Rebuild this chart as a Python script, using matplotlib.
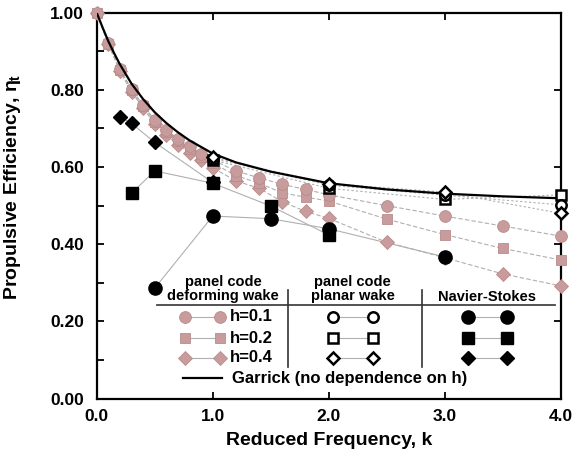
import matplotlib
matplotlib.use("Agg")
import matplotlib.pyplot as plt
import numpy as np

plt.rcParams['font.family'] = ['Liberation Sans', 'DejaVu Sans']
plt.rcParams['font.weight'] = 'bold'
plt.rcParams['mathtext.fontset'] = 'custom'
plt.rcParams['mathtext.rm'] = 'Liberation Sans'
plt.rcParams['mathtext.it'] = 'Liberation Sans'
plt.rcParams['mathtext.bf'] = 'Liberation Sans:bold'

# ---------------- data ----------------
k_deform = [0.0, 0.1, 0.2, 0.3, 0.4, 0.5, 0.6, 0.7, 0.8, 0.9, 1.0,
            1.2, 1.4, 1.6, 1.8, 2.0, 2.5, 3.0, 3.5, 4.0]
eta_deform_h01 = [1.0, 0.922, 0.855, 0.802, 0.76, 0.722, 0.695, 0.673, 0.655, 0.635, 0.618,
                  0.59, 0.572, 0.555, 0.542, 0.528, 0.50, 0.473, 0.447, 0.421]
eta_deform_h02 = [1.0, 0.92, 0.852, 0.80, 0.757, 0.718, 0.69, 0.667, 0.647, 0.627, 0.61,
                  0.578, 0.558, 0.533, 0.522, 0.512, 0.465, 0.425, 0.389, 0.359]
eta_deform_h04 = [1.0, 0.918, 0.848, 0.795, 0.752, 0.712, 0.682, 0.658, 0.637, 0.617, 0.598,
                  0.564, 0.545, 0.51, 0.485, 0.467, 0.405, 0.365, 0.323, 0.292]

k_planar = [1.0, 2.0, 3.0, 4.0]
eta_planar_h01 = [0.622, 0.553, 0.527, 0.502]
eta_planar_h02 = [0.618, 0.545, 0.516, 0.528]
eta_planar_h04 = [0.625, 0.557, 0.535, 0.48]

k_ns_h01 = [0.5, 1.0, 1.5, 2.0, 3.0]
eta_ns_h01 = [0.286, 0.473, 0.466, 0.44, 0.367]
k_ns_h02 = [0.3, 0.5, 1.0, 1.5, 2.0]
eta_ns_h02 = [0.532, 0.59, 0.558, 0.499, 0.424]
k_ns_h04 = [0.2, 0.3, 0.5, 1.0]
eta_ns_h04 = [0.73, 0.713, 0.664, 0.56]

k_garrick = [0.0, 0.05, 0.1, 0.15, 0.2, 0.3, 0.4, 0.5, 0.6, 0.7, 0.8, 1.0,
             1.2, 1.5, 2.0, 2.5, 3.0, 3.5, 4.0]
eta_garrick = [1.0, 0.962, 0.926, 0.895, 0.866, 0.816, 0.776, 0.742, 0.714, 0.69, 0.669, 0.635,
               0.612, 0.588, 0.558, 0.542, 0.531, 0.524, 0.519]

x_ticks = [0.0, 1.0, 2.0, 3.0, 4.0]
y_ticks = [0.0, 0.2, 0.4, 0.6, 0.8, 1.0]

# ---------------- style ----------------
PINK = '#c89c9c'
PINK_EDGE = '#b98b8b'
GRAY = '#b0b0b0'

fig = plt.figure(figsize=(5.82, 4.59), dpi=100)
ax = fig.add_axes([0.1662, 0.1318, 0.7972, 0.8405])

# gray connecting lines
for eta in (eta_deform_h01, eta_deform_h02, eta_deform_h04):
    ax.plot(k_deform, eta, ls=(0, (4, 2)), color=GRAY, lw=0.8, zorder=2)
for eta in (eta_planar_h01, eta_planar_h02, eta_planar_h04):
    ax.plot(k_planar, eta, ls=(0, (2, 2)), color=GRAY, lw=0.8, zorder=2)
for kk, eta in ((k_ns_h01, eta_ns_h01), (k_ns_h02, eta_ns_h02), (k_ns_h04, eta_ns_h04)):
    ax.plot(kk, eta, ls='-', color=GRAY, lw=0.8, zorder=2)

# pink deforming wake markers
pk = dict(ls='none', mfc=PINK, mec=PINK_EDGE, mew=0.6, zorder=3, clip_on=False)
ax.plot(k_deform, eta_deform_h04, marker='D', ms=7.0, **pk)
ax.plot(k_deform, eta_deform_h02, marker='s', ms=7.5, **pk)
ax.plot(k_deform, eta_deform_h01, marker='o', ms=8.5, **pk)

# Garrick
ax.plot(k_garrick, eta_garrick, color='black', lw=1.6, zorder=4)

# planar wake (open)
op = dict(ls='none', mfc='white', mec='black', mew=1.8, zorder=5, clip_on=False)
ax.plot(k_planar, eta_planar_h02, marker='s', ms=7, **op)
ax.plot(k_planar, eta_planar_h01, marker='o', ms=7.5, **op)
ax.plot(k_planar, eta_planar_h04, marker='D', ms=6.5, **op)

# Navier-Stokes (filled black)
nb = dict(ls='none', mfc='black', mec='black', zorder=6, clip_on=False)
ax.plot(k_ns_h01, eta_ns_h01, marker='o', ms=9.5, **nb)
ax.plot(k_ns_h02, eta_ns_h02, marker='s', ms=8.5, **nb)
ax.plot(k_ns_h04, eta_ns_h04, marker='D', ms=7.5, **nb)

# axes
ax.set_xlim(0, 4)
ax.set_ylim(0, 1)
ax.set_xticks(x_ticks)
ax.set_xticklabels([f'{v:.1f}' for v in x_ticks])
ax.set_yticks(y_ticks)
ax.set_yticklabels([f'{v:.2f}' for v in y_ticks])
ax.set_yticks(np.arange(0.1, 1.0, 0.2), minor=True)
ax.tick_params(axis='both', which='both', direction='in', labelsize=12.5,
               width=1.3, length=5)
ax.tick_params(axis='x', top=True, pad=7.5)
ax.tick_params(axis='y', right=True, pad=9)
ax.tick_params(axis='y', which='minor', right=False)
for lab in ax.get_xticklabels() + ax.get_yticklabels():
    lab.set_fontweight('bold')
for s in ax.spines.values():
    s.set_linewidth(1.6)

ax.set_xlabel('Reduced Frequency, k', fontsize=14, fontweight='bold', labelpad=6)
ax.set_ylabel(r'Propulsive Efficiency, $\eta_t$', fontsize=14, fontweight='bold')
ax.yaxis.set_label_coords(-0.158, 0.548)

# ---------------- custom legend (axes fraction) ----------------
T = ax.transAxes
hdr = dict(transform=T, ha='center', va='center', fontsize=10.5, fontweight='bold',
           linespacing=1.0, zorder=7)
ax.text(0.272, 0.283, 'panel code\ndeforming wake', **hdr)
ax.text(0.552, 0.283, 'panel code\nplanar wake', **hdr)
ax.text(0.841, 0.263, 'Navier-Stokes', **hdr)
ax.plot([0.130, 0.988], [0.2424, 0.2424], transform=T, color='#444444', lw=1.3, zorder=7)
for xv in (0.412, 0.701):
    ax.plot([xv, xv], [0.0816, 0.281], transform=T, color='#333333', lw=1.2, zorder=7)

rows_y = [0.2113, 0.1568, 0.1050]
rows_lab = ['h=0.1', 'h=0.2', 'h=0.4']
rows_mk = [('o', 8.5, 9.5, 7.5), ('s', 7.5, 8.5, 7), ('D', 7.0, 7.5, 6.5)]
for yv, lab, (m, s_p, s_b, s_o) in zip(rows_y, rows_lab, rows_mk):
    ax.plot([0.190, 0.2657], [yv, yv], transform=T, color=GRAY, lw=0.8,
            marker=m, ms=s_p, mfc=PINK, mec=PINK_EDGE, mew=0.6, zorder=7)
    ax.text(0.287, yv, lab, transform=T, ha='left', va='center', fontsize=12,
            fontweight='bold', zorder=7)
    ax.plot([0.5086, 0.5948], [yv, yv], transform=T, color=GRAY, lw=0.8,
            marker=m, ms=s_o, mfc='white', mec='black', mew=1.8, zorder=7)
    ax.plot([0.8002, 0.8843], [yv, yv], transform=T, color=GRAY, lw=0.8,
            marker=m, ms=s_b, mfc='black', mec='black', zorder=7)

ax.plot([0.186, 0.270], [0.0531, 0.0531], transform=T, color='black', lw=1.6, zorder=7)
ax.text(0.2916, 0.0531, 'Garrick (no dependence on h)', transform=T, ha='left',
        va='center', fontsize=12, fontweight='bold', zorder=7)

fig.savefig('out.png', dpi=100)
